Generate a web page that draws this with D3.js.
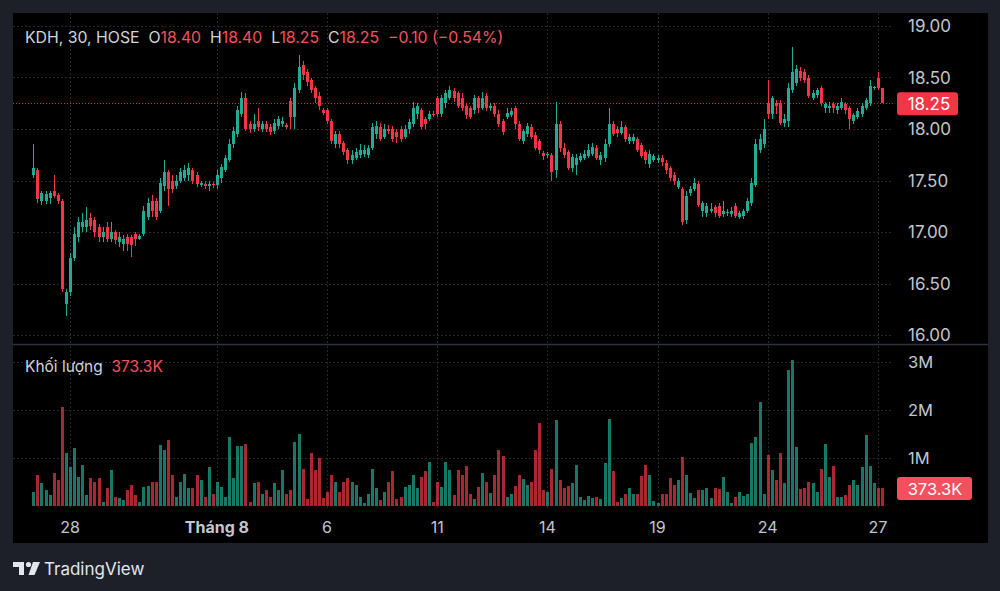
<!DOCTYPE html>
<html><head><meta charset="utf-8">
<script src="https://cdn.jsdelivr.net/npm/d3@7/dist/d3.min.js"></script>
<style>html,body{margin:0;padding:0;background:#1d2028;}svg{display:block;font-family:Inter,Roboto,"Noto Sans",sans-serif;}</style>
</head><body>
<svg id="c" width="1000" height="591"></svg>
<script>
const opens = [
17.55,17.60,17.30,17.30,17.33,17.40,17.36,17.30,16.30,16.42,
16.75,16.95,17.05,17.05,17.14,17.12,17.05,16.95,17.05,16.93,
17.00,16.90,16.88,16.95,16.95,16.98,16.93,16.98,17.15,17.30,
17.30,17.20,17.45,17.58,17.50,17.45,17.50,17.52,17.55,17.60,
17.55,17.46,17.47,17.45,17.47,17.46,17.52,17.60,17.70,17.85,
17.95,18.15,18.30,18.05,18.00,18.08,18.00,18.05,18.02,17.98,
18.03,18.05,18.04,18.27,18.12,18.38,18.62,18.55,18.48,18.40,
18.32,18.18,18.18,18.08,17.85,17.95,17.86,17.80,17.70,17.72,
17.75,17.76,17.75,17.82,17.95,18.02,17.92,18.00,18.00,17.97,
18.00,17.92,18.00,18.05,18.15,18.18,18.10,18.10,18.15,18.30,
18.15,18.25,18.30,18.37,18.35,18.30,18.22,18.20,18.18,18.30,
18.20,18.32,18.20,18.22,18.15,18.08,18.12,18.14,18.20,18.05,
17.88,17.95,18.02,17.94,17.88,17.77,17.75,17.75,17.60,18.05,
17.82,17.78,17.62,17.65,17.70,17.72,17.74,17.76,17.82,17.70,
17.72,17.85,18.05,18.00,17.96,18.02,17.88,17.88,17.90,17.84,
17.78,17.66,17.70,17.70,17.72,17.67,17.62,17.55,17.44,17.42,
17.12,17.38,17.42,17.47,17.20,17.18,17.20,17.24,17.25,17.17,
17.18,17.17,17.25,17.15,17.16,17.20,17.28,17.46,17.80,17.85,
18.25,18.15,18.25,18.25,18.06,18.08,18.38,18.45,18.56,18.55,
18.50,18.30,18.33,18.40,18.20,18.20,18.24,18.18,18.20,18.24,
18.20,18.08,18.12,18.15,18.20,18.25,18.40,18.50,18.40];
const highs = [
17.85,17.62,17.40,17.40,17.40,17.55,17.38,17.32,16.45,16.80,
17.05,17.15,17.18,17.24,17.18,17.15,17.08,17.05,17.10,17.10,
17.02,17.00,16.97,16.98,16.97,17.00,16.98,17.25,17.33,17.36,
17.33,17.52,17.70,17.60,17.55,17.55,17.62,17.65,17.67,17.62,
17.58,17.50,17.50,17.50,17.49,17.60,17.66,17.75,17.90,18.02,
18.22,18.36,18.35,18.08,18.15,18.20,18.08,18.08,18.05,18.10,
18.13,18.12,18.06,18.30,18.45,18.72,18.66,18.58,18.50,18.42,
18.36,18.20,18.20,18.10,17.98,17.98,17.88,17.82,17.80,17.82,
17.85,17.84,17.84,18.06,18.08,18.06,18.05,18.04,18.03,18.00,
18.03,18.04,18.10,18.26,18.25,18.20,18.12,18.17,18.17,18.32,
18.33,18.38,18.42,18.40,18.37,18.35,18.25,18.22,18.33,18.32,
18.36,18.35,18.25,18.25,18.18,18.10,18.20,18.20,18.22,18.08,
18.00,18.06,18.05,17.97,17.90,17.79,17.78,17.77,18.26,18.08,
17.86,17.80,17.76,17.76,17.77,17.80,17.85,17.86,17.84,17.78,
17.90,18.20,18.08,18.03,18.08,18.04,17.95,17.95,17.92,17.86,
17.80,17.80,17.76,17.75,17.75,17.70,17.64,17.58,17.52,17.44,
17.40,17.45,17.52,17.50,17.30,17.28,17.28,17.26,17.28,17.30,
17.22,17.24,17.28,17.20,17.22,17.33,17.52,17.90,17.95,18.10,
18.48,18.32,18.28,18.28,18.15,18.45,18.80,18.62,18.60,18.58,
18.52,18.38,18.40,18.42,18.26,18.26,18.26,18.25,18.30,18.26,
18.22,18.16,18.20,18.25,18.30,18.48,18.42,18.55,18.40];
const lows = [
17.52,17.28,17.26,17.27,17.27,17.33,17.27,16.42,16.18,16.38,
16.72,16.90,17.00,17.00,17.02,16.95,16.90,16.90,16.90,16.90,
16.88,16.85,16.82,16.82,16.76,16.86,16.92,16.96,17.12,17.15,
17.12,17.18,17.40,17.25,17.38,17.42,17.48,17.50,17.50,17.47,
17.44,17.44,17.42,17.40,17.43,17.42,17.48,17.58,17.68,17.82,
17.92,18.12,17.98,17.96,17.97,17.98,17.97,17.97,17.94,17.95,
18.00,18.02,18.00,18.00,18.00,18.35,18.48,18.42,18.35,18.25,
18.18,18.14,18.05,17.85,17.82,17.82,17.75,17.66,17.66,17.70,
17.72,17.73,17.72,17.80,17.90,17.88,17.90,17.95,17.87,17.86,
17.87,17.90,17.95,18.02,18.10,18.00,18.00,18.08,18.12,18.12,
18.12,18.20,18.28,18.26,18.20,18.17,18.10,18.10,18.15,18.16,
18.18,18.17,18.17,18.12,18.02,17.94,18.10,18.12,18.00,17.88,
17.85,17.92,17.90,17.80,17.76,17.70,17.72,17.50,17.52,17.78,
17.72,17.60,17.58,17.55,17.68,17.70,17.72,17.74,17.70,17.65,
17.68,17.83,17.93,17.92,17.94,17.87,17.85,17.85,17.78,17.72,
17.66,17.62,17.68,17.67,17.64,17.56,17.50,17.46,17.42,17.07,
17.08,17.35,17.40,17.24,17.15,17.15,17.18,17.15,17.14,17.15,
17.16,17.15,17.14,17.13,17.13,17.18,17.25,17.44,17.77,17.82,
18.10,18.10,18.15,18.04,18.02,18.02,18.35,18.42,18.47,18.45,
18.30,18.28,18.30,18.22,18.16,18.16,18.16,18.15,18.18,18.15,
18.00,18.05,18.10,18.12,18.18,18.22,18.38,18.38,18.25];
const closes = [
17.62,17.32,17.38,17.37,17.38,17.35,17.30,16.45,16.42,16.75,
16.98,17.10,17.10,17.12,17.06,17.00,16.95,17.00,16.93,17.00,
16.92,16.95,16.93,16.88,16.87,16.93,16.96,17.20,17.28,17.20,
17.15,17.48,17.58,17.42,17.42,17.50,17.58,17.60,17.62,17.50,
17.47,17.48,17.45,17.47,17.46,17.55,17.63,17.72,17.85,17.98,
18.18,18.30,18.00,18.00,18.05,18.02,18.05,18.00,17.97,18.06,
18.10,18.08,18.02,18.12,18.40,18.60,18.52,18.46,18.38,18.30,
18.22,18.16,18.08,17.88,17.95,17.85,17.78,17.70,17.75,17.78,
17.80,17.80,17.82,18.02,18.03,17.90,18.00,17.98,17.90,17.92,
17.90,18.00,18.07,18.20,18.22,18.02,18.05,18.15,18.14,18.15,
18.30,18.35,18.38,18.30,18.22,18.20,18.14,18.12,18.30,18.20,
18.30,18.20,18.22,18.15,18.05,17.97,18.16,18.17,18.05,17.90,
17.98,18.03,17.92,17.82,17.80,17.74,17.76,17.58,18.05,17.82,
17.75,17.62,17.73,17.72,17.74,17.76,17.80,17.83,17.72,17.75,
17.85,18.05,17.95,17.96,18.02,17.90,17.92,17.92,17.80,17.74,
17.70,17.76,17.74,17.72,17.68,17.60,17.52,17.50,17.50,17.10,
17.35,17.42,17.48,17.26,17.28,17.25,17.22,17.18,17.16,17.20,
17.19,17.20,17.16,17.18,17.20,17.30,17.48,17.85,17.90,18.00,
18.15,18.30,18.22,18.06,18.10,18.40,18.55,18.58,18.50,18.48,
18.32,18.35,18.38,18.25,18.24,18.22,18.20,18.22,18.26,18.18,
18.10,18.14,18.17,18.22,18.28,18.42,18.41,18.40,18.25];
// volume in millions
const volumes = [
0.30,0.65,0.47,0.33,0.23,0.69,0.54,2.07,1.10,0.82,
1.20,0.61,0.85,0.23,0.58,0.51,0.58,0.09,0.37,0.76,
0.19,0.16,0.13,0.33,0.44,0.23,0.09,0.40,0.42,0.51,
0.49,1.27,1.17,1.38,0.65,0.19,0.51,0.66,0.37,0.37,
0.65,0.54,0.19,0.81,0.26,0.51,0.40,0.19,1.44,0.58,
1.25,1.24,1.29,0.09,0.47,0.49,0.26,0.33,0.19,0.47,
0.33,0.75,0.26,0.33,1.34,1.51,0.78,0.14,1.11,0.75,
0.99,0.16,0.30,0.65,0.51,0.30,0.51,0.58,
0.51,0.44,0.19,0.07,0.26,0.78,0.37,0.13,0.30,0.51,
0.72,0.14,0.19,0.40,0.44,0.65,0.37,0.61,0.72,0.92,
0.09,0.49,0.40,0.92,0.75,0.23,0.76,0.65,0.83,0.25,
0.14,0.40,0.69,0.51,0.28,0.65,1.17,1.04,0.18,0.25,
0.42,0.65,0.56,0.44,0.51,1.17,1.72,0.33,0.30,0.78,
1.79,0.54,0.37,0.42,0.47,0.85,0.19,0.13,0.21,0.16,
0.18,0.14,0.90,1.81,0.72,0.09,0.16,0.25,0.37,0.25,
0.26,0.63,0.85,0.65,0.11,0.07,0.25,0.26,
0.58,0.44,0.54,1.03,0.65,0.28,0.16,0.33,0.33,0.37,
0.16,0.37,0.35,0.61,0.30,0.06,0.19,0.30,0.21,0.26,
1.31,1.44,2.17,0.26,1.06,0.75,0.54,1.11,0.47,2.83,
3.04,1.22,0.35,0.37,0.51,0.47,0.30,0.78,1.29,0.61,
0.83,0.19,0.19,0.23,0.44,0.54,0.44,0.82,1.48,0.83,
0.47,0.37,0.3733];
const timeTickIndex = [9,45,72,99,126,153,180,207];
const timeTickLabels = ["28","Tháng 8","6","11","14","19","24","27"];
const priceTicks = [16.00,16.50,17.00,17.50,18.00,18.50,19.00];
const volumeTicks = [1,2,3];
const volumeTickLabels = ["1M","2M","3M"];
const lastPrice = 18.25, lastVolumeLabel = "373.3K";

const UP = "#22ab94", DOWN = "#f23645";
const svg = d3.select("#c");
const W = 1000, H = 591;
const panel = {x:13, y:13, w:975, h:530};
const plotRight = 893;

svg.append("rect").attr("width",W).attr("height",H).attr("fill","#1d2028");
svg.append("rect").attr("x",panel.x).attr("y",panel.y).attr("width",panel.w).attr("height",panel.h).attr("fill","#000");

const x = d3.scaleLinear().domain([0,208]).range([33.3, 33.3+208*4.08]);
const y = d3.scaleLinear().domain([16,19]).range([335,26]);
const yv = d3.scaleLinear().domain([0,3]).range([506,362]);

const grid = svg.append("g").attr("stroke","#262930").attr("stroke-width",1).attr("stroke-dasharray","2,2");
grid.selectAll(".hp").data(priceTicks).join("line")
  .attr("x1",panel.x).attr("x2",plotRight).attr("y1",d=>Math.round(y(d))+0.5).attr("y2",d=>Math.round(y(d))+0.5);
grid.selectAll(".hv").data(volumeTicks).join("line")
  .attr("x1",panel.x).attr("x2",plotRight).attr("y1",d=>Math.round(yv(d))+0.5).attr("y2",d=>Math.round(yv(d))+0.5);
timeTickIndex.forEach(i=>{
  const xx = Math.round(x(i))+0.5;
  grid.append("line").attr("x1",xx).attr("x2",xx).attr("y1",panel.y).attr("y2",343);
  grid.append("line").attr("x1",xx).attr("x2",xx).attr("y1",346).attr("y2",510);
});

// pane separator
svg.append("line").attr("x1",panel.x).attr("x2",panel.x+panel.w).attr("y1",344.5).attr("y2",344.5)
  .attr("stroke","#2e323a").attr("stroke-width",1.5);

// last price dotted line
svg.append("line").attr("x1",panel.x).attr("x2",plotRight).attr("y1",Math.round(y(lastPrice))+0.5).attr("y2",Math.round(y(lastPrice))+0.5)
  .attr("stroke","#c2303c").attr("stroke-dasharray","1,2").attr("shape-rendering","crispEdges");

const idx = d3.range(closes.length);
// volume bars
svg.append("g").attr("shape-rendering","crispEdges").selectAll("rect").data(idx).join("rect")
  .attr("x",i=>Math.round(x(i))-1).attr("width",3)
  .attr("y",i=>yv(volumes[i])).attr("height",i=>yv(0)-yv(volumes[i]))
  .attr("fill",i=>closes[i]>=opens[i]?UP:DOWN).attr("fill-opacity",0.7);

// candles
const cg = svg.append("g").attr("shape-rendering","crispEdges");
cg.selectAll("line").data(idx).join("line")
  .attr("x1",i=>Math.round(x(i))+0.5).attr("x2",i=>Math.round(x(i))+0.5)
  .attr("y1",i=>y(highs[i])).attr("y2",i=>y(lows[i]))
  .attr("stroke",i=>closes[i]>=opens[i]?UP:DOWN).attr("stroke-width",1);
cg.selectAll("rect").data(idx).join("rect")
  .attr("x",i=>Math.round(x(i))-1).attr("width",3)
  .attr("y",i=>y(Math.max(opens[i],closes[i])))
  .attr("height",i=>Math.max(1,Math.abs(y(opens[i])-y(closes[i]))))
  .attr("fill",i=>closes[i]>=opens[i]?UP:DOWN);

// price axis labels
const axisCol = "#c3c6ce";
svg.append("g").selectAll("text").data(priceTicks).join("text")
  .attr("x",908).attr("y",d=>y(d)).attr("dy","0.36em")
  .attr("fill",axisCol).attr("font-size",17).text(d=>d3.format(".2f")(d));
svg.append("g").selectAll("text").data(volumeTicks).join("text")
  .attr("x",908).attr("y",d=>yv(d)).attr("dy","0.36em")
  .attr("fill",axisCol).attr("font-size",16.5).text((d,i)=>volumeTickLabels[i]);

// last price box
svg.append("rect").attr("x",897).attr("y",y(lastPrice)-11).attr("width",61).attr("height",23).attr("rx",3).attr("fill",DOWN);
svg.append("text").attr("x",929).attr("y",y(lastPrice)+0.5).attr("dy","0.36em").attr("text-anchor","middle")
  .attr("fill","#fff").attr("font-size",17).text(d3.format(".2f")(lastPrice));
// last volume box
const lv = volumes[volumes.length-1];
svg.append("rect").attr("x",897).attr("y",yv(lv)-11).attr("width",75).attr("height",23).attr("rx",3).attr("fill","#f4505e");
svg.append("text").attr("x",935).attr("y",yv(lv)+0.5).attr("dy","0.36em").attr("text-anchor","middle")
  .attr("fill","#fff").attr("font-size",16.5).text(lastVolumeLabel);

// time axis
svg.append("g").selectAll("text").data(timeTickIndex).join("text")
  .attr("x",d=>x(d)).attr("y",527).attr("dy","0.36em").attr("text-anchor","middle")
  .attr("fill",axisCol).attr("font-size",16)
  .attr("font-weight",(d,i)=>timeTickLabels[i].startsWith("Tháng")?"bold":"normal")
  .text((d,i)=>timeTickLabels[i]);

// header legend
const hdr = svg.append("text").attr("x",25).attr("y",43).attr("font-size",15.8).attr("fill","#d1d4dc").attr("xml:space","preserve");
const red = "#f7525f";
const O = opens[opens.length-1], Hh = highs[highs.length-1], L = lows[lows.length-1], C = closes[closes.length-1];
const parts = [
  ["KDH, 30, HOSE","#d1d4dc"],["  O","#d1d4dc"],[O.toFixed(2),red],["  H","#d1d4dc"],[Hh.toFixed(2),red],
  ["  L","#d1d4dc"],[L.toFixed(2),red],["  C","#d1d4dc"],[C.toFixed(2),red],
  ["  −0.10 (−0.54%)",red]
];
parts.forEach(p=>hdr.append("tspan").attr("fill",p[1]).text(p[0]));

// volume legend
const vl = svg.append("text").attr("x",25).attr("y",372).attr("font-size",15.5).attr("xml:space","preserve");
vl.append("tspan").attr("fill","#d1d4dc").text("Khối lượng  ");
vl.append("tspan").attr("fill",red).text(lastVolumeLabel);

// footer logo
const logo = svg.append("g").attr("fill","#e3e6ec");
logo.append("path").attr("d","M13,562 H24 V575 H19 V567 H13 Z");
logo.append("circle").attr("cx",28.5).attr("cy",564.5).attr("r",2.6);
logo.append("path").attr("d","M33,562 H40 L34.5,575 H28.5 Z");
svg.append("text").attr("x",44).attr("y",575).attr("font-size",17).attr("fill","#e3e6ec").text("TradingView");
</script>
</body></html>
